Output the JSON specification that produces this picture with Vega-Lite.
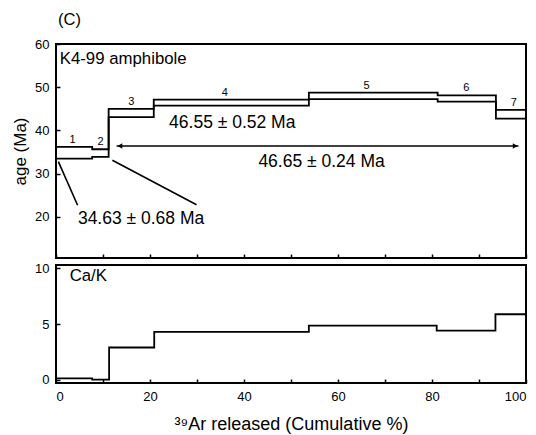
{
  "$schema": "https://vega.github.io/schema/vega-lite/v6.json",
  "padding": {"left": 10, "top": 10, "right": 4, "bottom": 6},
  "background": "white",
  "bounds": "flush",
  "spacing": 7,
  "config": {
    "font": "Liberation Sans",
    "view": {"stroke": "black", "strokeWidth": 2},
    "axis": {
      "domain": false, "grid": false,
      "tickColor": "black", "tickWidth": 1.5, "tickSize": -4,
      "labelFont": "Liberation Sans", "labelFontSize": 13, "labelColor": "black",
      "titleFont": "Liberation Sans", "titleFontWeight": "normal", "titleColor": "black", "titleFontSize": 17
    },
    "title": {"font": "Liberation Sans", "fontWeight": "normal", "color": "black"}
  },
  "datasets": {
    "age": [
      {"x": 0, "top": 36.2, "bot": 33.5},
      {"x": 7.7, "top": 35.65, "bot": 33.9},
      {"x": 11.2, "top": 45.0, "bot": 43.1},
      {"x": 20.8, "top": 47.15, "bot": 45.75},
      {"x": 53.8, "top": 48.75, "bot": 47.25},
      {"x": 81.2, "top": 48.1, "bot": 46.65},
      {"x": 93.6, "top": 44.75, "bot": 42.75},
      {"x": 100, "top": 44.75, "bot": 42.75}
    ],
    "steplabels": [
      {"n": "1", "x": 3.5, "y": 36.2},
      {"n": "2", "x": 9.5, "y": 35.65},
      {"n": "3", "x": 16.0, "y": 45.0},
      {"n": "4", "x": 35.9, "y": 47.15},
      {"n": "5", "x": 66.1, "y": 48.75},
      {"n": "6", "x": 87.3, "y": 48.1},
      {"n": "7", "x": 97.4, "y": 44.75}
    ],
    "results": [
      {"t": "46.55 ± 0.52 Ma", "x": 37.5, "y": 41.75},
      {"t": "46.65 ± 0.24 Ma", "x": 56.5, "y": 32.6},
      {"t": "34.63 ± 0.68 Ma", "x": 18.1, "y": 19.6}
    ],
    "sample": [{"t": "K4-99 amphibole", "x": 0.8, "y": 56.6}],
    "leaders": [
      {"x": 0.5, "y": 32.8, "x2": 4.6, "y2": 22.7},
      {"x": 12.0, "y": 33.1, "x2": 29.9, "y2": 22.8}
    ],
    "arrow": [{"x": 12.9, "x2": 98.4, "y": 36.4}],
    "headL": [{"x": 13.6, "y": 36.4}],
    "headR": [{"x": 97.7, "y": 36.4}],
    "cak": [
      {"x": 0, "v": 0.15},
      {"x": 7.7, "v": 0.03},
      {"x": 11.3, "v": 2.9},
      {"x": 20.9, "v": 4.3},
      {"x": 53.8, "v": 4.86},
      {"x": 81.0, "v": 4.4},
      {"x": 93.5, "v": 5.87},
      {"x": 100, "v": 5.87}
    ],
    "caklabel": [{"t": "Ca/K", "x": 2.9, "v": 9.3}]
  },
  "vconcat": [
    {
      "width": 470,
      "height": 214,
      "title": {"text": "(C)", "anchor": "start", "frame": "group", "fontSize": 16.5, "dx": 2, "offset": 10},
      "encoding": {
        "x": {"type": "quantitative", "scale": {"domain": [0, 100], "nice": false},
              "axis": {"title": null, "labels": false, "values": [0, 10, 20, 30, 40, 50, 60, 70, 80, 90, 100]}},
        "y": {"type": "quantitative", "scale": {"domain": [10.5, 60], "nice": false, "zero": false},
              "axis": {"title": "age (Ma)", "values": [20, 30, 40, 50, 60], "labelPadding": 11, "titlePadding": 5}}
      },
      "layer": [
        {"data": {"name": "age"}, "mark": {"type": "line", "interpolate": "step-after", "color": "black", "strokeWidth": 1.8},
         "encoding": {"x": {"field": "x", "type": "quantitative"}, "y": {"field": "top", "type": "quantitative"}}},
        {"data": {"name": "age"}, "mark": {"type": "line", "interpolate": "step-after", "color": "black", "strokeWidth": 1.8},
         "encoding": {"x": {"field": "x", "type": "quantitative"}, "y": {"field": "bot", "type": "quantitative"}}},
        {"data": {"name": "steplabels"}, "mark": {"type": "text", "fontSize": 11, "dy": -7, "baseline": "middle", "color": "black"},
         "encoding": {"x": {"field": "x", "type": "quantitative"}, "y": {"field": "y", "type": "quantitative"}, "text": {"field": "n"}}},
        {"data": {"name": "results"}, "mark": {"type": "text", "fontSize": 17.5, "baseline": "middle", "align": "center", "color": "black"},
         "encoding": {"x": {"field": "x", "type": "quantitative"}, "y": {"field": "y", "type": "quantitative"}, "text": {"field": "t"}}},
        {"data": {"name": "sample"}, "mark": {"type": "text", "fontSize": 16.8, "baseline": "middle", "align": "left", "color": "black"},
         "encoding": {"x": {"field": "x", "type": "quantitative"}, "y": {"field": "y", "type": "quantitative"}, "text": {"field": "t"}}},
        {"data": {"name": "leaders"}, "mark": {"type": "rule", "color": "black", "strokeWidth": 1.6},
         "encoding": {"x": {"field": "x", "type": "quantitative"}, "y": {"field": "y", "type": "quantitative"},
                      "x2": {"field": "x2"}, "y2": {"field": "y2"}}},
        {"data": {"name": "arrow"}, "mark": {"type": "rule", "color": "black", "strokeWidth": 1.4},
         "encoding": {"x": {"field": "x", "type": "quantitative"}, "x2": {"field": "x2"}, "y": {"field": "y", "type": "quantitative"}}},
        {"data": {"name": "headL"}, "mark": {"type": "point", "shape": "triangle-left", "filled": true, "color": "black", "size": 30, "opacity": 1},
         "encoding": {"x": {"field": "x", "type": "quantitative"}, "y": {"field": "y", "type": "quantitative"}}},
        {"data": {"name": "headR"}, "mark": {"type": "point", "shape": "triangle-right", "filled": true, "color": "black", "size": 30, "opacity": 1},
         "encoding": {"x": {"field": "x", "type": "quantitative"}, "y": {"field": "y", "type": "quantitative"}}}
      ]
    },
    {
      "width": 470,
      "height": 118,
      "encoding": {
        "x": {"type": "quantitative", "scale": {"domain": [0, 100], "nice": false},
              "axis": {"title": "³⁹Ar released (Cumulative %)", "titleFontSize": 18, "values": [0, 10, 20, 30, 40, 50, 60, 70, 80, 90, 100],
                       "labelExpr": "datum.value % 20 === 0 ? datum.label : ''", "labelPadding": 11, "titlePadding": 12}},
        "y": {"type": "quantitative", "scale": {"domain": [-0.27, 10.27], "nice": false, "zero": false},
              "axis": {"title": null, "values": [0, 5, 10], "labelPadding": 11}}
      },
      "layer": [
        {"data": {"name": "cak"}, "mark": {"type": "line", "interpolate": "step-after", "color": "black", "strokeWidth": 1.8},
         "encoding": {"x": {"field": "x", "type": "quantitative"}, "y": {"field": "v", "type": "quantitative"}}},
        {"data": {"name": "caklabel"}, "mark": {"type": "text", "fontSize": 16.8, "baseline": "middle", "align": "left", "color": "black"},
         "encoding": {"x": {"field": "x", "type": "quantitative"}, "y": {"field": "v", "type": "quantitative"}, "text": {"field": "t"}}}
      ]
    }
  ]
}
